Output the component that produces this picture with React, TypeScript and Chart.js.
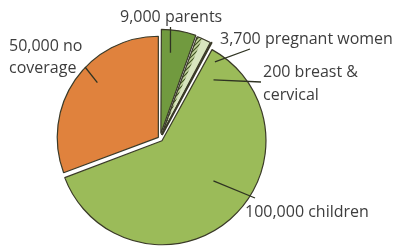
import React, { useEffect, useRef } from "react";
import { Chart, registerables } from "chart.js";

Chart.register(...registerables);

// ---- data ----
const CATEGORIES = ["parents", "pregnant women", "breast & cervical", "children", "no coverage"];
const CATEGORY_LINES = [["parents"], ["pregnant women"], ["breast &", "cervical"], ["children"], ["no", "coverage"]];
const VALUES = [9000, 3700, 200, 100000, 50000];
const COLORS = ["#719a3f", "#d8e5bf", "#2c3318", "#9bbb59", "#e0823d"];
const BORDER_WIDTHS = [1.2, 1.2, 2, 1.2, 1.2];
const OFFSETS = [20, 16, 16, 12, 8];

// ---- label layout (text position, leader start, anchor inside slice in polar terms) ----
const LABEL_LAYOUT = [
  { x: 120, y: 21.5, lh: 23, lx: 170.5, ly: 27, angle: 6.8, r: 0.78 },
  { x: 220, y: 44, lh: 23, lx: 250, ly: 49, angle: 36.1, r: 0.866 },
  { x: 263, y: 77, lh: 23, lx: 261, ly: 82, angle: 43.1, r: 0.72 },
  { x: 245, y: 216.5, lh: 23, lx: 255, ly: 198, angle: 127.9, r: 0.627 },
  { x: 9, y: 50.5, lh: 22.8, lx: 85, ly: 67, angle: 311.9, r: 0.81 },
];

const fmt = (v: number) => v.toLocaleString("en-US");

function arcGeom(arc: any) {
  const off = (arc.options.offset || 0) / 4;
  const mid = (arc.startAngle + arc.endAngle) / 2;
  const circ = arc.endAngle - arc.startAngle;
  const fix = 1 - Math.sin(Math.min(Math.PI, circ));
  return {
    cx: arc.x + Math.cos(mid) * off,
    cy: arc.y + Math.sin(mid) * off,
    r: arc.outerRadius + off * fix,
  };
}

function makeHatch(ctx: CanvasRenderingContext2D) {
  const c = document.createElement("canvas");
  c.width = 4;
  c.height = 4;
  const p = c.getContext("2d")!;
  p.fillStyle = "#c5d6a0";
  p.fillRect(0, 0, 4, 4);
  p.strokeStyle = "#3f5220";
  p.lineWidth = 1.2;
  p.beginPath();
  p.moveTo(0, 4);
  p.lineTo(4, 0);
  p.moveTo(-1, 1);
  p.lineTo(1, -1);
  p.moveTo(3, 5);
  p.lineTo(5, 3);
  p.stroke();
  return ctx.createPattern(c, "repeat");
}

const hatchPlugin = {
  id: "hatchStrip",
  afterDatasetsDraw(chart: any) {
    const ctx = chart.ctx as CanvasRenderingContext2D;
    const arc = chart.getDatasetMeta(0).data[1] as any;
    const g = arcGeom(arc);
    const a0 = arc.startAngle;
    const a1 = arc.startAngle + (arc.endAngle - arc.startAngle) * 0.36;
    ctx.save();
    ctx.beginPath();
    ctx.moveTo(g.cx, g.cy);
    ctx.arc(g.cx, g.cy, g.r - 0.6, a0, a1);
    ctx.closePath();
    ctx.fillStyle = makeHatch(ctx) as any;
    ctx.fill();
    ctx.strokeStyle = "#3a3a28";
    ctx.lineWidth = 1.2;
    ctx.beginPath();
    ctx.moveTo(g.cx, g.cy);
    ctx.lineTo(g.cx + Math.cos(a0) * g.r, g.cy + Math.sin(a0) * g.r);
    ctx.stroke();
    ctx.restore();
  },
};

const labelPlugin = {
  id: "sliceLabels",
  afterDatasetsDraw(chart: any) {
    const ctx = chart.ctx as CanvasRenderingContext2D;
    const meta = chart.getDatasetMeta(0);
    ctx.save();
    ctx.font = '16px "Open Sans"';
    ctx.fillStyle = "#3d3d3d";
    ctx.textBaseline = "alphabetic";
    ctx.textAlign = "left";
    LABEL_LAYOUT.forEach((lay, i) => {
      const g = arcGeom(meta.data[i]);
      const a = ((lay.angle - 90) * Math.PI) / 180;
      const ax = g.cx + Math.cos(a) * g.r * lay.r;
      const ay = g.cy + Math.sin(a) * g.r * lay.r;
      ctx.strokeStyle = "#2f3322";
      ctx.lineWidth = 1.3;
      ctx.beginPath();
      ctx.moveTo(lay.lx, lay.ly);
      ctx.lineTo(ax, ay);
      ctx.stroke();
      const lines = CATEGORY_LINES[i].slice();
      lines[0] = fmt(VALUES[i]) + " " + lines[0];
      lines.forEach((t, k) => ctx.fillText(t, lay.x, lay.y + k * lay.lh));
    });
    ctx.restore();
  },
};

export default function App() {
  const ref = useRef<HTMLCanvasElement>(null);
  useEffect(() => {
    document.body.style.margin = "0";
    const chart = new Chart(ref.current!, {
      type: "pie",
      data: {
        labels: CATEGORIES,
        datasets: [
          {
            data: VALUES,
            backgroundColor: COLORS,
            borderColor: "#3a3a28",
            borderWidth: BORDER_WIDTHS,
            offset: OFFSETS,
          },
        ],
      },
      options: {
        animation: false,
        responsive: false,
        maintainAspectRatio: false,
        devicePixelRatio: 1,
        radius: 101,
        layout: { padding: { left: 0, right: 82, top: 31, bottom: 0 } },
        plugins: { legend: { display: false }, tooltip: { enabled: false } },
        events: [],
      } as any,
      plugins: [hatchPlugin, labelPlugin],
    });
    return () => chart.destroy();
  }, []);
  return (
    <div style={{ width: 402, height: 246, background: "#fff" }}>
      <canvas ref={ref} width={402} height={246} />
    </div>
  );
}
